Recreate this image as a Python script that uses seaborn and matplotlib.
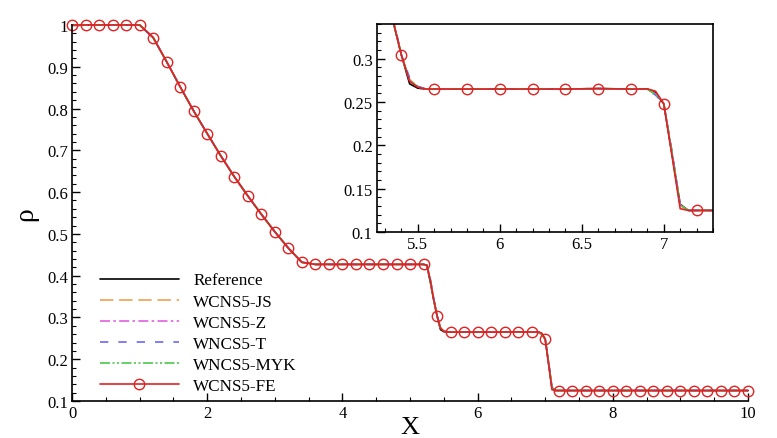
import matplotlib
matplotlib.use("Agg")
import matplotlib.pyplot as plt
from matplotlib.ticker import MultipleLocator, FormatStrFormatter
import numpy as np
import pandas as pd
import seaborn as sns

# density on the coarse grid (one FE marker every 0.2)
x_grid = np.linspace(0.0, 10.0, 51)
rho_grid = [
    1.000, 1.000, 1.000, 1.000, 1.000, 1.000,
    0.970, 0.912, 0.852, 0.794, 0.740, 0.687, 0.637, 0.591, 0.547, 0.505, 0.466, 0.432,
    0.427, 0.427, 0.427, 0.427, 0.427, 0.427, 0.427, 0.427, 0.427,
    0.304,
    0.265, 0.265, 0.265, 0.265, 0.265, 0.2655, 0.265,
    0.248,
    0.125, 0.125, 0.125, 0.125, 0.125, 0.125, 0.125, 0.125,
    0.125, 0.125, 0.125, 0.125, 0.125, 0.125, 0.125,
]

# extra samples around the contact and the shock, per scheme
x_contact = [5.25, 5.30, 5.35, 5.45, 5.50, 5.55]
x_shock = [6.85, 6.90, 6.95, 7.05, 7.10, 7.15]

contact_ref = [0.424, 0.385, 0.342, 0.271, 0.2660, 0.265]
contact_js = [0.425, 0.390, 0.344, 0.276, 0.2680, 0.265]
contact_z = [0.425, 0.390, 0.344, 0.275, 0.2675, 0.265]
contact_t = [0.425, 0.392, 0.346, 0.278, 0.2680, 0.265]
contact_myk = [0.425, 0.390, 0.344, 0.275, 0.2675, 0.265]
contact_fe = [0.425, 0.389, 0.343, 0.274, 0.2670, 0.265]

shock_ref = [0.265, 0.2650, 0.2605, 0.190, 0.132, 0.125]
shock_js = [0.265, 0.2648, 0.2590, 0.192, 0.131, 0.125]
shock_z = [0.265, 0.2648, 0.2590, 0.192, 0.131, 0.125]
shock_t = [0.265, 0.2645, 0.2580, 0.193, 0.131, 0.125]
shock_myk = [0.265, 0.2648, 0.2590, 0.192, 0.131, 0.125]
shock_fe = [0.265, 0.2652, 0.2625, 0.188, 0.127, 0.125]

schemes = ["Reference", "WCNS5-JS", "WCNS5-Z", "WNCS5-T", "WNCS5-MYK", "WCNS5-FE"]
contact_vals = [contact_ref, contact_js, contact_z, contact_t, contact_myk, contact_fe]
shock_vals = [shock_ref, shock_js, shock_z, shock_t, shock_myk, shock_fe]

styles = {
    "Reference": dict(color="black", linestyle="-"),
    "WCNS5-JS": dict(color="#f0a050", linestyle=(0, (8, 3.5))),
    "WCNS5-Z": dict(color="#e060e0", linestyle=(0, (6, 2, 1.5, 2))),
    "WNCS5-T": dict(color="#6a6af0", linestyle=(0, (5, 6))),
    "WNCS5-MYK": dict(color="#4cc84c", linestyle=(0, (6, 1.5, 1.2, 1.5, 1.2, 1.5))),
    "WCNS5-FE": dict(color="#e02222", linestyle="-"),
}

frames = []
for name, cv, sv in zip(schemes, contact_vals, shock_vals):
    xs = list(x_grid) + x_contact + x_shock
    ys = list(rho_grid) + cv + sv
    frames.append(pd.DataFrame({"x": xs, "rho": ys, "scheme": name}))
df = pd.concat(frames).sort_values(["scheme", "x"]).reset_index(drop=True)

sns.set_theme(style="ticks")
plt.rcParams["font.family"] = ["Liberation Serif", "DejaVu Serif"]
plt.rcParams["axes.edgecolor"] = "black"
plt.rcParams["xtick.color"] = "black"
plt.rcParams["ytick.color"] = "black"
plt.rcParams["text.color"] = "black"
plt.rcParams["axes.labelcolor"] = "black"

fig = plt.figure(figsize=(7.77, 4.39), dpi=100)
ax = fig.add_axes([0.0927, 0.0843, 0.870, 0.8565])
axin = fig.add_axes([0.485, 0.469, 0.4326, 0.474])


def draw(target, clip):
    for name in schemes:
        sub = df[df["scheme"] == name]
        kw = dict(styles[name])
        if name == "WCNS5-FE":
            mask = [bool(np.isclose(v, x_grid).any()) for v in sub["x"]]
            kw.update(marker="o", markersize=7.5, markerfacecolor="none",
                      markeredgecolor=kw["color"], markeredgewidth=1.0, markevery=mask)
        sns.lineplot(data=sub, x="x", y="rho", ax=target, label=name, sort=False,
                     estimator=None, linewidth=1.2, clip_on=clip, legend=False, **kw)


draw(ax, False)
draw(axin, True)

ax.set_xlim(0, 10)
ax.set_ylim(0.1, 1.0)
ax.xaxis.set_major_locator(MultipleLocator(2))
ax.xaxis.set_minor_locator(MultipleLocator(0.5))
ax.yaxis.set_major_locator(MultipleLocator(0.1))
ax.yaxis.set_minor_locator(MultipleLocator(0.02))
ax.xaxis.set_major_formatter(FormatStrFormatter("%g"))
ax.yaxis.set_major_formatter(FormatStrFormatter("%g"))
sns.despine(ax=ax)
ax.set_xlabel("X", fontsize=19, labelpad=-4)
ax.set_ylabel("ρ", fontsize=20, labelpad=6)

axin.set_xlim(5.25, 7.3)
axin.set_ylim(0.1, 0.34)
axin.xaxis.set_major_locator(MultipleLocator(0.5))
axin.xaxis.set_minor_locator(MultipleLocator(0.1))
axin.yaxis.set_major_locator(MultipleLocator(0.05))
axin.yaxis.set_minor_locator(MultipleLocator(0.01))
axin.xaxis.set_major_formatter(FormatStrFormatter("%g"))
axin.yaxis.set_major_formatter(FormatStrFormatter("%g"))
axin.set_xlabel("")
axin.set_ylabel("")

for a in (ax, axin):
    a.tick_params(which="major", direction="in", length=6, width=1, labelsize=12, pad=3)
    a.tick_params(which="minor", direction="in", length=3, width=0.8)
    for sp in a.spines.values():
        sp.set_linewidth(1.2)

handles, labels = ax.get_legend_handles_labels()
ax.legend(handles, labels, loc="center left", bbox_to_anchor=(0.0414, 0.18),
          frameon=False, fontsize=12.3, handlelength=4.6, handletextpad=0.85,
          labelspacing=0.3, borderpad=0, borderaxespad=0, numpoints=1)

fig.savefig("out.png", dpi=100)
